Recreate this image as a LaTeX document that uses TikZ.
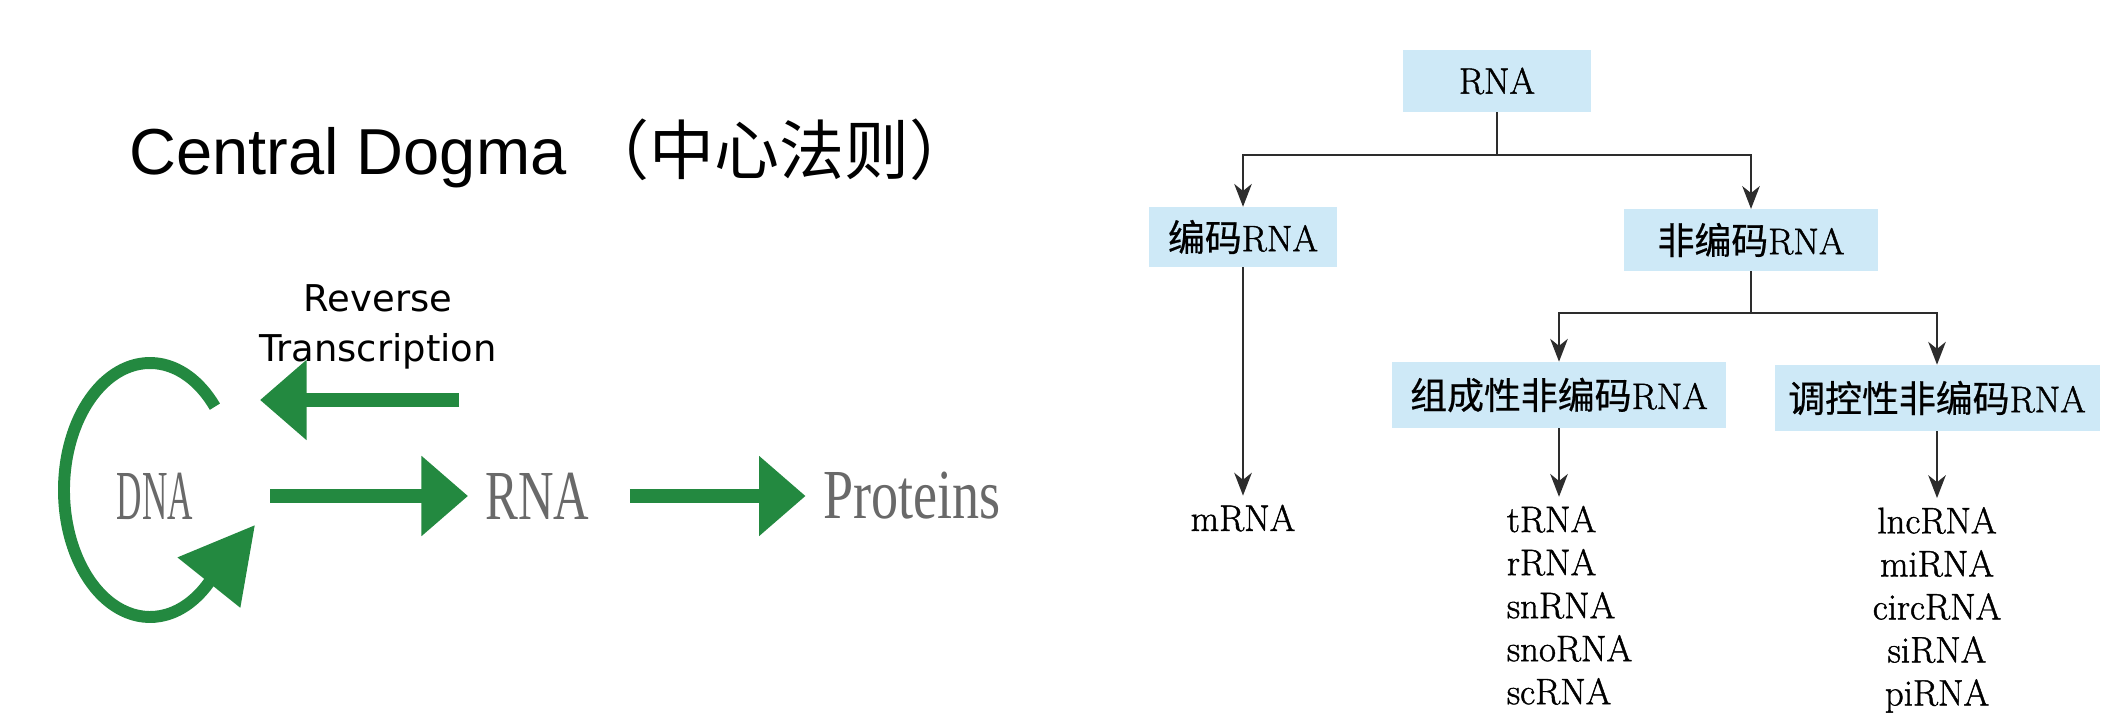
\documentclass[tikz,border=0pt]{standalone}
\usepackage{fontspec}
\newfontfamily\cjk{Noto Sans CJK SC}[FakeBold=0.6]
\newfontfamily\treefont{Latin Modern Roman}[FakeBold=1.2]
\newfontfamily\titlefont{Liberation Sans}
\newfontfamily\titlecjk{Noto Sans CJK SC}
\newfontfamily\handfont{DejaVu Sans}
\newfontfamily\genefont{Liberation Serif}
\usepackage{tikz}
\usetikzlibrary{arrows.meta,positioning}

\definecolor{dogmaGreen}{RGB}{35,137,64}
\definecolor{geneGray}{RGB}{105,105,105}
\definecolor{boxBlue}{RGB}{206,233,247}
\definecolor{lineGray}{RGB}{45,45,45}

\begin{document}
\begin{tikzpicture}[
        x=0.02cm, y=-0.02cm,
        heading/.style={
            % No border
            inner sep = 0pt,
            % Font
            font = \titlefont\fontsize{37}{37}\selectfont
        },
        note/.style={
            inner sep = 0pt,
            align = center,
            % Font
            font = \handfont\fontsize{21}{28.5}\selectfont
        },
        gene/.style={
            inner sep = 0pt,
            outer sep = 0pt,
            % The color
            color = geneGray,
            % Font
            font = \genefont\fontsize{40}{40}\selectfont
        },
        flow/.style={
            draw = dogmaGreen,
            line width = 8.5pt,
            -{Triangle[length=26.5pt,width=44pt]}
        },
        cycleline/.style={
            draw = dogmaGreen,
            line width = 6.8pt,
            -{Triangle[length=42pt,width=44pt]}
        },
        box/.style={
            % The shape
            rectangle,
            % No border, just a fill
            fill = boxBlue,
            inner xsep = 6pt,
            minimum height = 35pt,
            % Font
            font = \treefont\fontsize{21}{21}\selectfont
        },
        entry/.style={
            inner sep = 0pt,
            % Font
            font = \treefont\fontsize{21}{24.5}\selectfont
        },
        branch/.style={
            draw = lineGray,
            line width = 1.1pt,
            -{Stealth[length=13pt,width=10pt,inset=4pt]}
        },
    ]
        \useasboundingbox (0,0) rectangle (2118,722);

        % central dogma
        \node (title) [heading,anchor=base west] at (129,175) {Central Dogma {\titlecjk （中心法则）}};
        \node (dna) [gene] at (155,496) {\scalebox{.5}[1]{DNA}};
        \node (rna) [gene,right=166.5pt of dna] {\scalebox{.7}[1]{RNA}};
        \node (proteins) [gene,right=133pt of rna] {\scalebox{.77}[1]{Proteins}};
        \path (dna) edge[flow,shorten <=44pt,shorten >=10pt] (rna);
        \path (rna) edge[flow,shorten <=23pt,shorten >=10pt] (proteins);

        \node (rtLabel) [note] at (378,327) {Reverse\\Transcription};
        \coordinate (rtFrom) at (459,400);
        \coordinate (rtTo) at (260,400);
        \draw[flow] (rtFrom) -- (rtTo);

        \coordinate (loopCentre) at (150,490);
        \coordinate (loopTip) at (255,525);
        \draw[cycleline] ([shift={(-41:86 and 127)}]loopCentre)
            arc[start angle=-41,end angle=-313,x radius=86,y radius=127] -- (loopTip);

        % RNA classes
        \node (rnaRoot) [box,minimum width=107.5pt] at (1497,81) {RNA};
        \node (coding) [box,minimum width=107.5pt,minimum height=34pt] at (1243,237) {{\cjk 编码}RNA};
        \node (noncoding) [box,minimum width=144.5pt] at (1751,240) {{\cjk 非编码}RNA};
        \draw[branch] (rnaRoot.south) -- ++(0,43) -| (coding.north);
        \draw[branch] (rnaRoot.south) -- ++(0,43) -| (noncoding.north);

        \node (structural) [box,minimum width=190.5pt,minimum height=37.5pt] at (1559,395) {{\cjk 组成性非编码}RNA};
        \node (regulatory) [box,minimum width=185pt,minimum height=37.5pt] at (1937,398) {{\cjk 调控性非编码}RNA};
        \draw[branch] (noncoding.south) -- ++(0,42) -| (structural.north);
        \draw[branch] (noncoding.south) -- ++(0,42) -| (regulatory.north);

        \node (mrna) [entry,below=135pt of coding] {mRNA};
        \path (coding) edge[branch,shorten >=5pt] (mrna);
        \node (structuralList) [entry,align=left,below=44pt of structural,xshift=6pt] {tRNA\\rRNA\\snRNA\\snoRNA\\scRNA};
        \draw[branch,shorten >=5pt] (structural.south) -- (structural.south |- structuralList.north);
        \node (regulatoryList) [entry,align=center,below=43pt of regulatory] {lncRNA\\miRNA\\circRNA\\siRNA\\piRNA};
        \path (regulatory) edge[branch,shorten >=5pt] (regulatoryList);

    \end{tikzpicture}
\end{document}
